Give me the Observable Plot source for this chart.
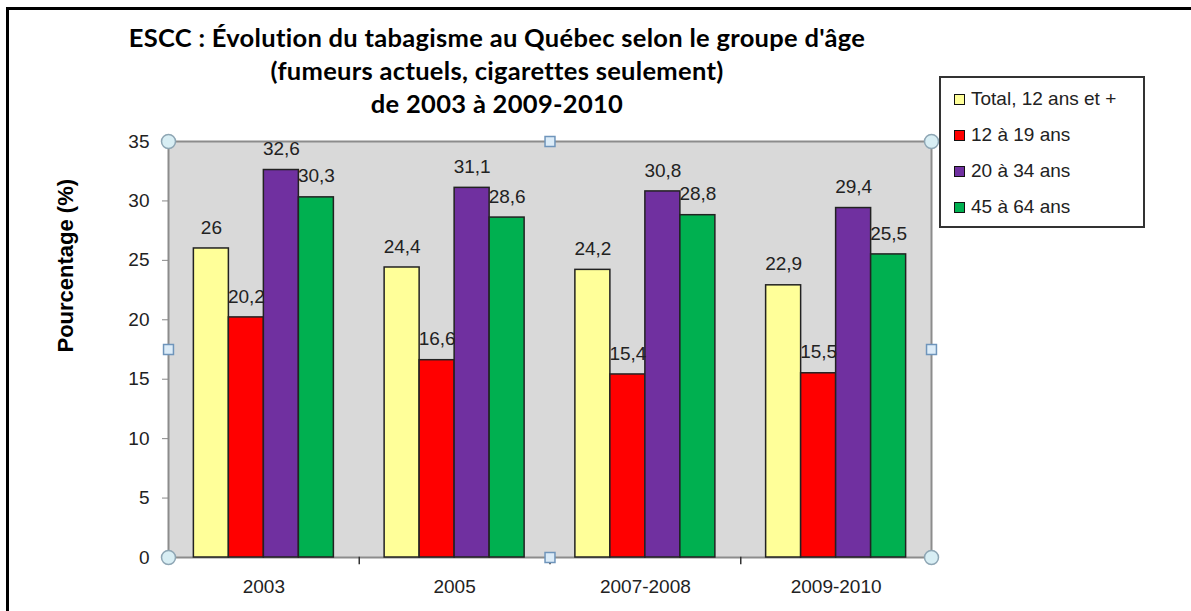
<!DOCTYPE html>
<html>
<head>
<meta charset="utf-8">
<script src="https://cdn.jsdelivr.net/npm/d3@7"></script>
<script src="https://cdn.jsdelivr.net/npm/@observablehq/plot@0.6"></script>
<style>
  body { margin: 0; background: #fff; }
  #wrap { position: relative; width: 1191px; height: 611px; overflow: hidden; background: #fff; }
  #border { position: absolute; left: 6px; top: 7px; width: 1300px; height: 700px;
            border-left: 3px solid #000; border-top: 3px solid #000; }
  #chart { position: absolute; left: 0; top: 0; }
  #title { position: absolute; left: 0; top: 21px; width: 994px; text-align: center;
           font: bold 25.5px Lato, "Open Sans", sans-serif; letter-spacing: 0.3px; line-height: 33px; color: #000; }
  #legend { position: absolute; left: 939px; top: 76px; width: 202px; height: 145px;
            border: 2px solid #333; background: #fff;
            font: 19px "Liberation Sans", Arial, sans-serif; color: #222; padding-top: 3px; box-sizing: content-box; }
  .item { display: flex; align-items: center; height: 36px; padding-left: 13px; }
  .sw { width: 9px; height: 9px; border: 1px solid #111; margin-right: 6px; }
</style>
</head>
<body>
<div id="wrap">
  <div id="border"></div>
  <div id="chart"></div>
  <div id="title"></div>
  <div id="legend"></div>
</div>
<script>
// ---- data ----
const titleLines = [
  "ESCC : Évolution du tabagisme au Québec selon le groupe d'âge",
  "(fumeurs actuels, cigarettes seulement)",
  "de 2003 à 2009-2010"
];
const yLabel = "Pourcentage (%)";
const periods = ["2003", "2005", "2007-2008", "2009-2010"];
const series = ["Total, 12 ans et +", "12 à 19 ans", "20 à 34 ans", "45 à 64 ans"];
const colors = ["#ffff99", "#ff0000", "#7030a0", "#00b050"];
const total = [26, 24.4, 24.2, 22.9];
const age12to19 = [20.2, 16.6, 15.4, 15.5];
const age20to34 = [32.6, 31.1, 30.8, 29.4];
const age45to64 = [30.3, 28.6, 28.8, 25.5];
const yTicks = [0, 5, 10, 15, 20, 25, 30, 35];

const valuesBySeries = [total, age12to19, age20to34, age45to64];
const rows = [];
periods.forEach((p, i) => {
  series.forEach((s, k) => rows.push({period: p, series: s, value: valuesBySeries[k][i]}));
});
const fmt = v => String(v).replace(".", ",");

// title
document.getElementById("title").innerHTML = titleLines.map(t => `<div>${t}</div>`).join("");

// legend
const legend = d3.select("#legend");
series.forEach((s, k) => {
  const it = legend.append("div").attr("class", "item");
  it.append("div").attr("class", "sw").style("background", colors[k]);
  it.append("span").text(s);
});

const handleStyle = {r: 7, fill: "#d8eef4", stroke: "#8ea6b4", strokeWidth: 1.5, facet: "super"};
const squareStyle = {r: 5.6, symbol: "square", fill: "#dcecf8", stroke: "#6f95bb", strokeWidth: 1.5, facet: "super"};

const chart = Plot.plot({
  width: 1191,
  height: 611,
  marginLeft: 168,
  marginRight: 260,
  marginTop: 141,
  marginBottom: 54,
  style: {fontFamily: "'Liberation Sans', Arial, sans-serif", fontSize: "19px", color: "#222", background: "transparent"},
  fx: {domain: periods, padding: 0, label: null, round: false},
  x: {domain: series, paddingInner: 0, paddingOuter: 0.725, axis: null, round: false},
  y: {domain: [0, 35], label: null},
  color: {domain: series, range: colors},
  marks: [
    Plot.frame({fill: "#d9d9d9", facet: "super"}),
    Plot.frame({stroke: "#8c8c8c", strokeWidth: 2, facet: "super"}),
    Plot.frame({anchor: "left", insetTop: 416, insetBottom: -6, stroke: "#333", strokeWidth: 1.5}),
    Plot.barY(rows, {fx: "period", x: "series", y: "value", fill: "series", stroke: "#222", strokeWidth: 1.5}),
    Plot.text(rows, {fx: "period", x: "series", y: "value", text: d => fmt(d.value), dy: -21, fill: "#222", fontSize: 19}),
    Plot.axisY({ticks: yTicks, tickSize: 6, tickPadding: 13, stroke: "#888", fill: "#222", label: null}),
    Plot.axisFx({anchor: "bottom", tickSize: 0, tickPadding: 22, label: null, fill: "#222"}),
    Plot.text([yLabel], {facet: "super", frameAnchor: "left", rotate: -90, dx: -103, dy: 3, fontWeight: "bold", fontSize: 22, fill: "#000"}),
    Plot.dot([0], {...handleStyle, frameAnchor: "top-left"}),
    Plot.dot([0], {...handleStyle, frameAnchor: "top-right"}),
    Plot.dot([0], {...handleStyle, frameAnchor: "bottom-left"}),
    Plot.dot([0], {...handleStyle, frameAnchor: "bottom-right"}),
    Plot.dot([0], {...squareStyle, frameAnchor: "top"}),
    Plot.dot([0], {...squareStyle, frameAnchor: "bottom"}),
    Plot.dot([0], {...squareStyle, frameAnchor: "left"}),
    Plot.dot([0], {...squareStyle, frameAnchor: "right"})
  ]
});
document.getElementById("chart").appendChild(chart);
</script>
</body>
</html>
